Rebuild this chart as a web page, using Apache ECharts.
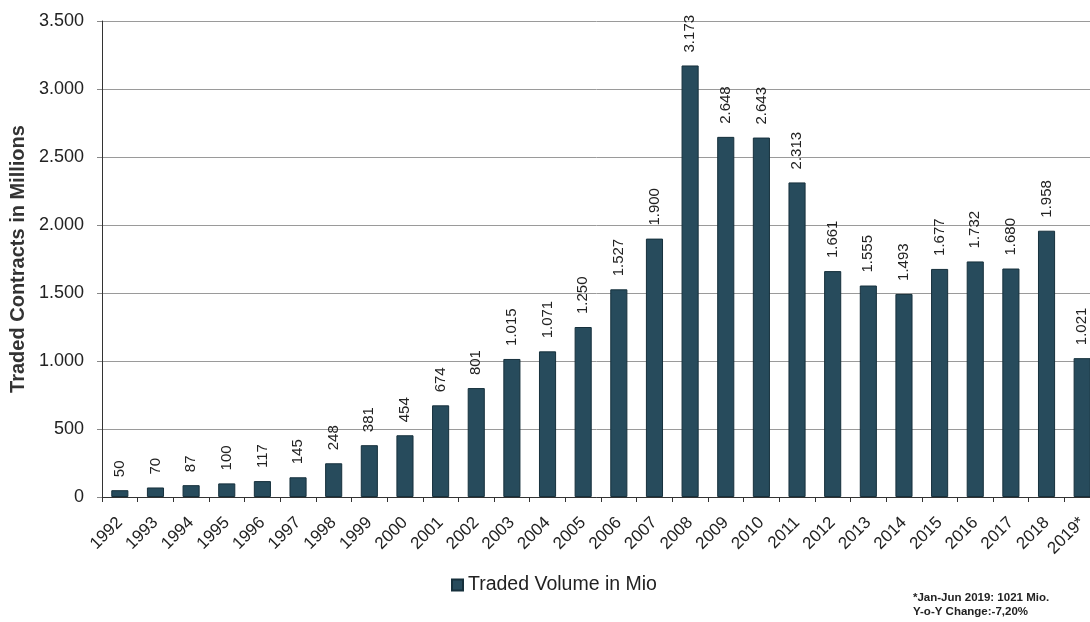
<!DOCTYPE html>
<html><head><meta charset="utf-8">
<script src="https://cdn.jsdelivr.net/npm/echarts@6/dist/echarts.min.js"></script>
<style>html,body{margin:0;padding:0;background:#fff}#c{width:1090px;height:622px}</style>
</head><body><div id="c"></div>
<script>
const categories = ['1992','1993','1994','1995','1996','1997','1998','1999','2000','2001','2002','2003','2004','2005','2006','2007','2008','2009','2010','2011','2012','2013','2014','2015','2016','2017','2018','2019*'];
const volumes = [50,70,87,100,117,145,248,381,454,674,801,1015,1071,1250,1527,1900,3173,2648,2643,2313,1661,1555,1493,1677,1732,1680,1958,1021];
const seriesName = 'Traded Volume in Mio';
const yAxisName = 'Traded Contracts in Millions';
const footnote = ['*Jan-Jun 2019: 1021 Mio.', 'Y-o-Y Change:-7,20%'];

function fmt(v){ return String(v).replace(/\B(?=(\d{3})+(?!\d))/g, '.'); }

const chart = echarts.init(document.getElementById('c'));
chart.setOption({
  animation: false,
  backgroundColor: '#ffffff',
  textStyle: { fontFamily: 'Liberation Sans, Arial, sans-serif' },
  grid: { left: 102, width: 998, top: 21, height: 476, outerBoundsMode: 'none', containLabel: false },
  legend: {
    data: [seriesName], top: 570, left: 446,
    icon: 'rect', itemWidth: 11, itemHeight: 11, itemGap: 7,
    textStyle: { fontSize: 19.5, color: '#222' }
  },
  xAxis: {
    type: 'category', data: categories,
    axisLine: { lineStyle: { color: '#333', width: 1 } },
    axisTick: { show: true, alignWithLabel: false, length: 5, lineStyle: { color: '#333' } },
    axisLabel: { rotate: 45, fontSize: 17, color: '#222', margin: 23, interval: 0 }
  },
  yAxis: {
    type: 'value', min: 0, max: 3500, interval: 500,
    name: yAxisName, nameLocation: 'middle', nameGap: 74, nameRotate: 90,
    nameTextStyle: { fontSize: 20, fontWeight: 'bold', color: '#333' },
    axisLine: { show: true, lineStyle: { color: '#333' } },
    axisTick: { show: true, length: 5, lineStyle: { color: '#888' } },
    axisLabel: { fontSize: 18, color: '#222', margin: 18, formatter: v => fmt(v) },
    splitLine: { lineStyle: { color: '#9a9a9a', width: 1 } }
  },
  series: [{
    name: seriesName, type: 'bar', data: volumes, barWidth: '48%',
    itemStyle: { color: '#274b5c', borderColor: '#16303c', borderWidth: 1 },
    label: {
      show: true, position: 'top', rotate: 90, align: 'left', verticalAlign: 'middle',
      distance: 13, fontSize: 15, color: '#222', formatter: p => fmt(p.value)
    }
  }],
  graphic: [{
    type: 'text', left: 913, top: 591,
    style: { text: footnote.join('\n'), fontSize: 11.5, fontWeight: 'bold', fill: '#222', lineHeight: 14 }
  }]
});
</script></body></html>
